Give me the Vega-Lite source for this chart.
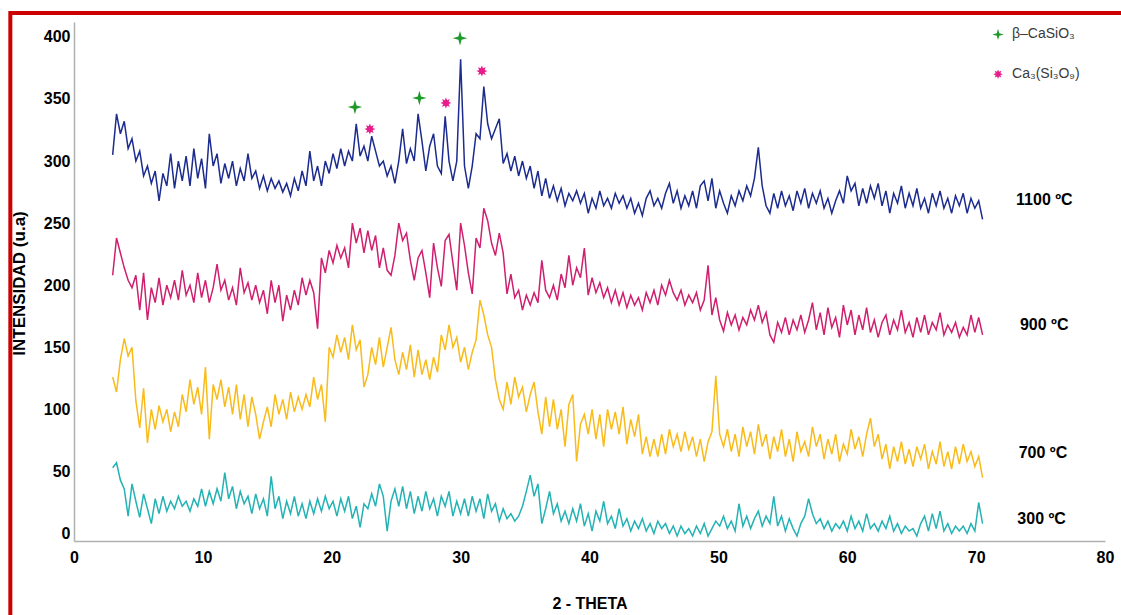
{
"$schema": "https://vega.github.io/schema/vega-lite/v6.json",
"width": 1031, "height": 519,
"autosize": {"type": "none"},
"padding": {"left": 74, "top": 22, "right": 16, "bottom": 74},
"background": "white",
"config": {"view": {"stroke": null}, "font": "Liberation Sans"},
"datasets": {
"xrd": [
{"x":3.0,"a":305,"b":208,"c":126,"d":53},{"x":3.3,"a":338,"b":238,"c":114,"d":57},{"x":3.6,"a":322,"b":226,"c":140,"d":43},{"x":3.9,"a":332,"b":214,"c":157,"d":36},{"x":4.2,"a":310,"b":204,"c":143,"d":14},{"x":4.5,"a":318,"b":198,"c":150,"d":40},{"x":4.8,"a":300,"b":208,"c":107,"d":26},{"x":5.1,"a":308,"b":180,"c":85,"d":13},{"x":5.4,"a":288,"b":210,"c":117,"d":32},{"x":5.7,"a":296,"b":172,"c":73,"d":20},
{"x":6.0,"a":282,"b":198,"c":100,"d":8},{"x":6.3,"a":292,"b":186,"c":84,"d":28},{"x":6.6,"a":268,"b":206,"c":103,"d":16},{"x":6.9,"a":290,"b":184,"c":90,"d":30},{"x":7.2,"a":280,"b":200,"c":100,"d":18},{"x":7.5,"a":306,"b":190,"c":82,"d":26},{"x":7.8,"a":278,"b":204,"c":98,"d":20},{"x":8.1,"a":300,"b":188,"c":86,"d":30},{"x":8.4,"a":284,"b":212,"c":112,"d":22},{"x":8.7,"a":304,"b":192,"c":98,"d":26},
{"x":9.0,"a":280,"b":200,"c":124,"d":18},{"x":9.3,"a":310,"b":186,"c":104,"d":28},{"x":9.6,"a":286,"b":210,"c":118,"d":22},{"x":9.9,"a":302,"b":190,"c":96,"d":36},{"x":10.2,"a":278,"b":204,"c":134,"d":22},{"x":10.5,"a":322,"b":186,"c":76,"d":34},{"x":10.8,"a":296,"b":198,"c":120,"d":24},{"x":11.1,"a":306,"b":217,"c":108,"d":36},{"x":11.4,"a":282,"b":196,"c":124,"d":26},{"x":11.7,"a":298,"b":204,"c":102,"d":49},
{"x":12.0,"a":286,"b":188,"c":118,"d":28},{"x":12.3,"a":300,"b":198,"c":96,"d":38},{"x":12.6,"a":280,"b":184,"c":120,"d":20},{"x":12.9,"a":294,"b":214,"c":92,"d":34},{"x":13.2,"a":284,"b":194,"c":112,"d":24},{"x":13.5,"a":306,"b":202,"c":86,"d":30},{"x":13.8,"a":286,"b":188,"c":110,"d":16},{"x":14.1,"a":292,"b":200,"c":96,"d":32},{"x":14.4,"a":278,"b":186,"c":76,"d":20},{"x":14.7,"a":288,"b":196,"c":90,"d":28},
{"x":15.0,"a":276,"b":177,"c":102,"d":14},{"x":15.3,"a":286,"b":204,"c":86,"d":46},{"x":15.6,"a":278,"b":186,"c":112,"d":20},{"x":15.9,"a":284,"b":200,"c":96,"d":30},{"x":16.2,"a":275,"b":171,"c":108,"d":12},{"x":16.5,"a":282,"b":192,"c":92,"d":26},{"x":16.8,"a":272,"b":180,"c":114,"d":16},{"x":17.1,"a":286,"b":196,"c":98,"d":30},{"x":17.4,"a":276,"b":184,"c":110,"d":14},{"x":17.7,"a":292,"b":206,"c":100,"d":24},
{"x":18.0,"a":280,"b":192,"c":112,"d":12},{"x":18.3,"a":308,"b":204,"c":102,"d":26},{"x":18.6,"a":284,"b":194,"c":126,"d":16},{"x":18.9,"a":296,"b":165,"c":108,"d":28},{"x":19.2,"a":280,"b":222,"c":120,"d":18},{"x":19.5,"a":300,"b":210,"c":90,"d":30},{"x":19.8,"a":290,"b":228,"c":150,"d":20},{"x":20.1,"a":306,"b":218,"c":142,"d":26},{"x":20.4,"a":294,"b":232,"c":160,"d":14},{"x":20.7,"a":310,"b":222,"c":146,"d":28},
{"x":21.0,"a":296,"b":230,"c":158,"d":18},{"x":21.3,"a":308,"b":214,"c":140,"d":30},{"x":21.6,"a":300,"b":250,"c":168,"d":12},{"x":21.9,"a":330,"b":234,"c":148,"d":22},{"x":22.2,"a":304,"b":246,"c":156,"d":5},{"x":22.5,"a":312,"b":226,"c":118,"d":24},{"x":22.8,"a":300,"b":244,"c":128,"d":20},{"x":23.1,"a":320,"b":228,"c":150,"d":32},{"x":23.4,"a":308,"b":240,"c":136,"d":22},{"x":23.7,"a":296,"b":214,"c":158,"d":40},
{"x":24.0,"a":300,"b":230,"c":134,"d":30},{"x":24.3,"a":288,"b":212,"c":150,"d":2},{"x":24.6,"a":296,"b":208,"c":166,"d":26},{"x":24.9,"a":282,"b":224,"c":140,"d":36},{"x":25.2,"a":300,"b":250,"c":128,"d":22},{"x":25.5,"a":326,"b":236,"c":146,"d":38},{"x":25.8,"a":298,"b":242,"c":132,"d":20},{"x":26.1,"a":310,"b":220,"c":152,"d":34},{"x":26.4,"a":300,"b":204,"c":126,"d":16},{"x":26.7,"a":338,"b":222,"c":148,"d":30},
{"x":27.0,"a":316,"b":228,"c":128,"d":18},{"x":27.3,"a":292,"b":210,"c":140,"d":34},{"x":27.6,"a":312,"b":190,"c":124,"d":20},{"x":27.9,"a":322,"b":234,"c":142,"d":28},{"x":28.2,"a":296,"b":214,"c":130,"d":14},{"x":28.5,"a":290,"b":199,"c":160,"d":30},{"x":28.8,"a":336,"b":236,"c":148,"d":22},{"x":29.1,"a":300,"b":241,"c":168,"d":34},{"x":29.4,"a":284,"b":218,"c":150,"d":14},{"x":29.7,"a":300,"b":196,"c":158,"d":26},
{"x":30.0,"a":382,"b":250,"c":138,"d":16},{"x":30.3,"a":296,"b":232,"c":150,"d":28},{"x":30.6,"a":278,"b":210,"c":132,"d":14},{"x":30.9,"a":296,"b":193,"c":146,"d":30},{"x":31.2,"a":322,"b":238,"c":156,"d":18},{"x":31.5,"a":318,"b":230,"c":188,"d":28},{"x":31.8,"a":360,"b":262,"c":176,"d":12},{"x":32.1,"a":330,"b":252,"c":160,"d":32},{"x":32.4,"a":318,"b":234,"c":150,"d":18},{"x":32.7,"a":326,"b":224,"c":124,"d":24},
{"x":33.0,"a":334,"b":242,"c":108,"d":10},{"x":33.3,"a":298,"b":226,"c":100,"d":20},{"x":33.6,"a":306,"b":193,"c":122,"d":12},{"x":33.9,"a":292,"b":209,"c":104,"d":16},{"x":34.2,"a":304,"b":190,"c":126,"d":10},{"x":34.5,"a":288,"b":196,"c":110,"d":14},{"x":34.8,"a":300,"b":180,"c":118,"d":22},{"x":35.1,"a":286,"b":192,"c":98,"d":34},{"x":35.4,"a":296,"b":184,"c":112,"d":47},{"x":35.7,"a":278,"b":194,"c":122,"d":30},
{"x":36.0,"a":292,"b":186,"c":98,"d":40},{"x":36.3,"a":272,"b":220,"c":80,"d":8},{"x":36.6,"a":286,"b":196,"c":110,"d":20},{"x":36.9,"a":270,"b":190,"c":86,"d":34},{"x":37.2,"a":280,"b":200,"c":108,"d":16},{"x":37.5,"a":268,"b":188,"c":84,"d":24},{"x":37.8,"a":278,"b":209,"c":100,"d":10},{"x":38.1,"a":264,"b":198,"c":70,"d":18},{"x":38.4,"a":274,"b":224,"c":104,"d":8},{"x":38.7,"a":268,"b":200,"c":112,"d":20},
{"x":39.0,"a":276,"b":214,"c":58,"d":10},{"x":39.3,"a":266,"b":206,"c":88,"d":24},{"x":39.6,"a":274,"b":230,"c":96,"d":6},{"x":39.9,"a":258,"b":192,"c":80,"d":16},{"x":40.2,"a":270,"b":206,"c":100,"d":2},{"x":40.5,"a":262,"b":194,"c":76,"d":18},{"x":40.8,"a":276,"b":202,"c":96,"d":10},{"x":41.1,"a":264,"b":190,"c":70,"d":26},{"x":41.4,"a":270,"b":198,"c":100,"d":8},{"x":41.7,"a":262,"b":186,"c":84,"d":14},
{"x":42.0,"a":274,"b":196,"c":98,"d":4},{"x":42.3,"a":266,"b":184,"c":80,"d":20},{"x":42.6,"a":272,"b":194,"c":102,"d":6},{"x":42.9,"a":262,"b":182,"c":72,"d":12},{"x":43.2,"a":270,"b":192,"c":92,"d":2},{"x":43.5,"a":258,"b":184,"c":78,"d":10},{"x":43.8,"a":266,"b":190,"c":96,"d":4},{"x":44.1,"a":256,"b":180,"c":64,"d":12},{"x":44.4,"a":270,"b":194,"c":78,"d":2},{"x":44.7,"a":276,"b":186,"c":62,"d":8},
{"x":45.0,"a":264,"b":196,"c":76,"d":0},{"x":45.3,"a":270,"b":184,"c":62,"d":10},{"x":45.6,"a":262,"b":200,"c":80,"d":4},{"x":45.9,"a":274,"b":192,"c":64,"d":8},{"x":46.2,"a":282,"b":204,"c":84,"d":0},{"x":46.5,"a":266,"b":194,"c":70,"d":6},{"x":46.8,"a":276,"b":188,"c":80,"d":-2},{"x":47.1,"a":262,"b":196,"c":66,"d":6},{"x":47.4,"a":272,"b":184,"c":82,"d":0},{"x":47.7,"a":264,"b":192,"c":68,"d":4},
{"x":48.0,"a":276,"b":186,"c":78,"d":-2},{"x":48.3,"a":262,"b":194,"c":62,"d":6},{"x":48.6,"a":280,"b":180,"c":76,"d":0},{"x":48.9,"a":284,"b":188,"c":58,"d":8},{"x":49.2,"a":268,"b":216,"c":74,"d":-2},{"x":49.5,"a":286,"b":176,"c":82,"d":4},{"x":49.8,"a":262,"b":190,"c":127,"d":10},{"x":50.1,"a":276,"b":172,"c":80,"d":6},{"x":50.4,"a":266,"b":163,"c":70,"d":14},{"x":50.7,"a":258,"b":178,"c":84,"d":4},
{"x":51.0,"a":272,"b":168,"c":66,"d":10},{"x":51.3,"a":264,"b":176,"c":80,"d":2},{"x":51.6,"a":276,"b":164,"c":62,"d":24},{"x":51.9,"a":268,"b":174,"c":86,"d":6},{"x":52.2,"a":280,"b":168,"c":70,"d":14},{"x":52.5,"a":272,"b":180,"c":82,"d":4},{"x":52.8,"a":286,"b":172,"c":64,"d":12},{"x":53.1,"a":311,"b":184,"c":88,"d":18},{"x":53.4,"a":280,"b":170,"c":70,"d":6},{"x":53.7,"a":264,"b":178,"c":80,"d":14},
{"x":54.0,"a":258,"b":160,"c":60,"d":8},{"x":54.3,"a":274,"b":154,"c":78,"d":30},{"x":54.6,"a":262,"b":170,"c":66,"d":6},{"x":54.9,"a":276,"b":162,"c":84,"d":14},{"x":55.2,"a":264,"b":174,"c":62,"d":2},{"x":55.5,"a":272,"b":160,"c":76,"d":12},{"x":55.8,"a":260,"b":172,"c":58,"d":4},{"x":56.1,"a":276,"b":164,"c":82,"d":-2},{"x":56.4,"a":266,"b":176,"c":66,"d":8},{"x":56.7,"a":278,"b":162,"c":74,"d":14},
{"x":57.0,"a":262,"b":172,"c":62,"d":28},{"x":57.3,"a":274,"b":186,"c":86,"d":16},{"x":57.6,"a":266,"b":164,"c":70,"d":8},{"x":57.9,"a":276,"b":178,"c":80,"d":12},{"x":58.2,"a":262,"b":160,"c":60,"d":4},{"x":58.5,"a":270,"b":182,"c":76,"d":10},{"x":58.8,"a":258,"b":166,"c":64,"d":2},{"x":59.1,"a":268,"b":174,"c":80,"d":8},{"x":59.4,"a":276,"b":158,"c":58,"d":4},{"x":59.7,"a":266,"b":184,"c":72,"d":10},
{"x":60.0,"a":288,"b":168,"c":64,"d":2},{"x":60.3,"a":276,"b":180,"c":84,"d":14},{"x":60.6,"a":282,"b":160,"c":68,"d":4},{"x":60.9,"a":264,"b":176,"c":78,"d":10},{"x":61.2,"a":278,"b":164,"c":62,"d":2},{"x":61.5,"a":266,"b":182,"c":80,"d":16},{"x":61.8,"a":280,"b":162,"c":93,"d":4},{"x":62.1,"a":270,"b":172,"c":70,"d":8},{"x":62.4,"a":282,"b":158,"c":80,"d":2},{"x":62.7,"a":264,"b":170,"c":60,"d":10},
{"x":63.0,"a":276,"b":176,"c":72,"d":4},{"x":63.3,"a":258,"b":160,"c":52,"d":14},{"x":63.6,"a":274,"b":172,"c":70,"d":2},{"x":63.9,"a":266,"b":164,"c":58,"d":8},{"x":64.2,"a":280,"b":180,"c":74,"d":0},{"x":64.5,"a":262,"b":162,"c":56,"d":6},{"x":64.8,"a":274,"b":170,"c":68,"d":2},{"x":65.1,"a":264,"b":158,"c":54,"d":4},{"x":65.4,"a":278,"b":174,"c":70,"d":-2},{"x":65.7,"a":262,"b":162,"c":60,"d":8},
{"x":66.0,"a":270,"b":176,"c":72,"d":14},{"x":66.3,"a":258,"b":160,"c":52,"d":2},{"x":66.6,"a":274,"b":170,"c":66,"d":16},{"x":66.9,"a":264,"b":164,"c":56,"d":4},{"x":67.2,"a":276,"b":178,"c":74,"d":18},{"x":67.5,"a":262,"b":160,"c":54,"d":2},{"x":67.8,"a":270,"b":168,"c":66,"d":8},{"x":68.1,"a":258,"b":162,"c":52,"d":0},{"x":68.4,"a":272,"b":170,"c":70,"d":6},{"x":68.7,"a":264,"b":158,"c":56,"d":2},
{"x":69.0,"a":274,"b":166,"c":72,"d":6},{"x":69.3,"a":258,"b":160,"c":58,"d":0},{"x":69.6,"a":270,"b":176,"c":66,"d":8},{"x":69.9,"a":262,"b":162,"c":54,"d":2},{"x":70.2,"a":268,"b":174,"c":62,"d":25},{"x":70.5,"a":253,"b":160,"c":45,"d":8}
],
"peaks": [
{"x":21.8,"y":343.5,"k":"beta"},{"x":26.8,"y":350.8,"k":"beta"},{"x":29.95,"y":399,"k":"beta"},
{"x":22.96,"y":325.8,"k":"ca"},{"x":28.86,"y":346.8,"k":"ca"},{"x":31.65,"y":372.5,"k":"ca"}
],
"legend": [
{"x":71.7,"y":402,"k":"beta","t":"β–CaSiO₃"},
{"x":71.7,"y":370,"k":"ca","t":"Ca₃(Si₃O₉)"}
],
"labels": [
{"x":73.1,"y":269,"t":"1100 ºC"},
{"x":73.4,"y":168,"t":"900 ºC"},
{"x":73.3,"y":65,"t":"700 ºC"},
{"x":73.2,"y":12,"t":"300 ºC"}
]
},
"layer": [
{
"data": {"name": "xrd"},
"transform": [{"fold": ["a", "b", "c", "d"], "as": ["key", "value"]}],
"mark": {"type": "line", "strokeWidth": 1.5},
"encoding": {
"x": {"field": "x", "type": "quantitative", "scale": {"domain": [0, 80], "nice": false, "zero": false},
"axis": {"title": "2 - THETA", "values": [0,10,20,30,40,50,60,70,80], "grid": false, "ticks": false, "domainColor": "#b0b0b0", "domainWidth": 1.5, "labelFont": "Liberation Sans", "labelFontWeight": "bold", "labelFontSize": 16, "labelColor": "#000000", "labelPadding": 8, "labelFlush": false, "titleFont": "Liberation Sans", "titleFontWeight": "bold", "titleFontSize": 16, "titleColor": "#000000", "titleY": 62, "titleBaseline": "middle"}},
"y": {"field": "value", "type": "quantitative", "scale": {"domain": [-6, 412], "nice": false, "zero": false},
"axis": {"title": "INTENSIDAD (u.a)", "values": [0,50,100,150,200,250,300,350,400], "grid": false, "ticks": false, "domainColor": "#b0b0b0", "domainWidth": 1.5, "labelFont": "Liberation Sans", "labelFontWeight": "bold", "labelFontSize": 16, "labelColor": "#000000", "labelPadding": 4, "labelFlush": false, "titleFont": "Liberation Sans", "titleFontWeight": "bold", "titleFontSize": 17, "titleColor": "#000000", "titleAngle": 270, "titleX": -55, "titleY": 261, "titleAlign": "center", "titleBaseline": "middle"}},
"color": {"field": "key", "type": "nominal", "scale": {"domain": ["a", "b", "c", "d"], "range": ["#1c2b8e", "#cf1f6f", "#f9bb19", "#24b2b4"]}, "legend": null}
}
},
{
"data": {"values": [{}]},
"mark": {"type": "rect", "fillOpacity": 0, "stroke": "#cc0000", "strokeWidth": 4, "clip": false},
"encoding": {
"x": {"datum": -4.94, "type": "quantitative", "scale": {"domain": [0, 80], "nice": false, "zero": false}},
"x2": {"datum": 90},
"y": {"datum": 419.3, "type": "quantitative", "scale": {"domain": [-6, 412], "nice": false, "zero": false}},
"y2": {"datum": -80}
}
},
{
"data": {"name": "peaks"},
"transform": [{"filter": "datum.k === 'beta'"}],
"mark": {"type": "point", "filled": true, "opacity": 1, "color": "#1f9a2a", "size": 210, "shape": "M0,-1L0.22,-0.22L1,0L0.22,0.22L0,1L-0.22,0.22L-1,0L-0.22,-0.22Z"},
"encoding": {
"x": {"field": "x", "type": "quantitative", "scale": {"domain": [0, 80], "nice": false, "zero": false}},
"y": {"field": "y", "type": "quantitative", "scale": {"domain": [-6, 412], "nice": false, "zero": false}}
}
},
{
"data": {"name": "peaks"},
"transform": [{"filter": "datum.k === 'ca'"}],
"mark": {"type": "point", "filled": true, "opacity": 1, "color": "#e81c8c", "size": 120, "shape": "M1,0L0.5,0.21L0.707,0.707L0.21,0.5L0,1L-0.21,0.5L-0.707,0.707L-0.5,0.21L-1,0L-0.5,-0.21L-0.707,-0.707L-0.21,-0.5L0,-1L0.21,-0.5L0.707,-0.707L0.5,-0.21Z"},
"encoding": {
"x": {"field": "x", "type": "quantitative", "scale": {"domain": [0, 80], "nice": false, "zero": false}},
"y": {"field": "y", "type": "quantitative", "scale": {"domain": [-6, 412], "nice": false, "zero": false}}
}
},
{
"data": {"name": "legend"},
"transform": [{"filter": "datum.k === 'beta'"}],
"mark": {"type": "point", "filled": true, "opacity": 1, "color": "#1f9a2a", "size": 130, "shape": "M0,-1L0.22,-0.22L1,0L0.22,0.22L0,1L-0.22,0.22L-1,0L-0.22,-0.22Z"},
"encoding": {
"x": {"field": "x", "type": "quantitative", "scale": {"domain": [0, 80], "nice": false, "zero": false}},
"y": {"field": "y", "type": "quantitative", "scale": {"domain": [-6, 412], "nice": false, "zero": false}}
}
},
{
"data": {"name": "legend"},
"transform": [{"filter": "datum.k === 'ca'"}],
"mark": {"type": "point", "filled": true, "opacity": 1, "color": "#e81c8c", "size": 90, "shape": "M1,0L0.5,0.21L0.707,0.707L0.21,0.5L0,1L-0.21,0.5L-0.707,0.707L-0.5,0.21L-1,0L-0.5,-0.21L-0.707,-0.707L-0.21,-0.5L0,-1L0.21,-0.5L0.707,-0.707L0.5,-0.21Z"},
"encoding": {
"x": {"field": "x", "type": "quantitative", "scale": {"domain": [0, 80], "nice": false, "zero": false}},
"y": {"field": "y", "type": "quantitative", "scale": {"domain": [-6, 412], "nice": false, "zero": false}}
}
},
{
"data": {"name": "legend"},
"mark": {"type": "text", "align": "left", "baseline": "middle", "dx": 14, "font": "Liberation Sans", "fontSize": 14, "color": "#3a3a3a"},
"encoding": {
"x": {"field": "x", "type": "quantitative", "scale": {"domain": [0, 80], "nice": false, "zero": false}},
"y": {"field": "y", "type": "quantitative", "scale": {"domain": [-6, 412], "nice": false, "zero": false}},
"text": {"field": "t"}
}
},
{
"data": {"name": "labels"},
"mark": {"type": "text", "align": "left", "baseline": "middle", "font": "Liberation Sans", "fontSize": 16, "fontWeight": "bold", "color": "#000000"},
"encoding": {
"x": {"field": "x", "type": "quantitative", "scale": {"domain": [0, 80], "nice": false, "zero": false}},
"y": {"field": "y", "type": "quantitative", "scale": {"domain": [-6, 412], "nice": false, "zero": false}},
"text": {"field": "t"}
}
}
]
}
